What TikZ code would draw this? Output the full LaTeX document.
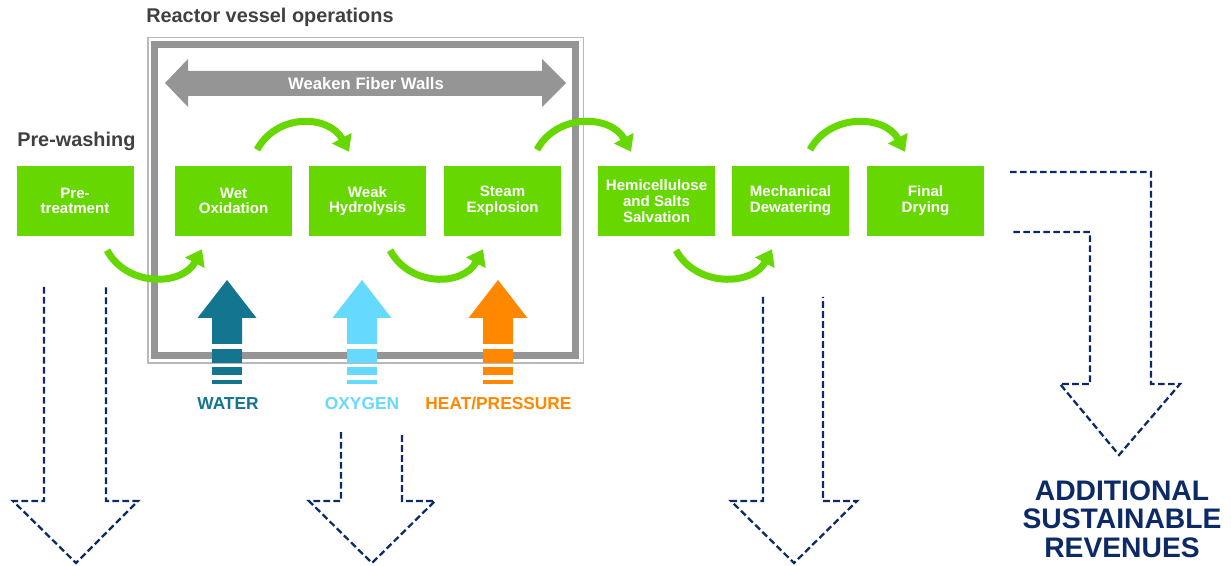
\documentclass[tikz,border=0pt]{standalone}
\usepackage{fontspec}
\setmainfont{Liberation Sans}
\usetikzlibrary{positioning,arrows.meta}
\definecolor{procgreen}{HTML}{66D800}
\definecolor{wallgray}{HTML}{959595}
\definecolor{framelight}{HTML}{B8B8B8}
\definecolor{labelgray}{HTML}{404040}
\definecolor{watercol}{HTML}{13758F}
\definecolor{oxycol}{HTML}{66D9FF}
\definecolor{heatcol}{HTML}{FF8800}
\definecolor{revnavy}{HTML}{0C2A66}
\begin{document}
\begin{tikzpicture}[
  x=0.75pt, y=-0.75pt,
  process/.style={rectangle, fill=procgreen, text=white, minimum width=87.75pt, minimum height=52.5pt, inner sep=0pt, font=\fontsize{11.3}{11.8}\selectfont\bfseries, align=center},
  flow/.style={draw=procgreen, line width=5.25pt, -{Triangle[length=11.5pt, width=16pt]}},
  output/.style={draw=revnavy, line width=1.7pt, dash pattern=on 5pt off 2.5pt},
  heading/.style={text=labelgray, font=\fontsize{14.9}{16}\selectfont\bfseries, inner sep=0pt},
  feed/.style={font=\fontsize{13}{15}\selectfont\bfseries, inner sep=0pt},
  node distance=100.5pt
]
\useasboundingbox (0,0) rectangle (1231,566);

% Reactor vessel frame
\draw[framelight, line width=0.9pt] (148,37.5) rectangle (583.5,363);
\draw[wallgray, line width=5.25pt] (154.5,45) rectangle (575.5,355.5);
\node[heading, anchor=base west] (reactor) at (146,23) {Reactor vessel operations};

% Weaken fiber walls
\fill[wallgray] (165,83) -- (188,59) -- (188,71) -- (542,71) -- (542,59) -- (566,83)
  -- (542,107) -- (542,96) -- (188,96) -- (188,107) -- cycle;
\node[text=white, font=\fontsize{12.5}{14}\selectfont\bfseries] (walls) at (366,84) {Weaken Fiber Walls};

% Process steps
\node[heading, anchor=base west] (prewash) at (17,147) {Pre-washing};
\node[process] (pre) at (75,201) {Pre-\\treatment};
\node[process, right of=pre, node distance=118.9pt] (wet) {Wet\\Oxidation};
\node[process, right of=wet] (weak) {Weak\\Hydrolysis};
\node[process, right of=weak, node distance=101.25pt] (steam) {Steam\\Explosion};
\node[process, right of=steam, node distance=115.5pt] (hemi) {Hemicellulose\\and Salts\\Salvation};
\node[process, right of=hemi] (mech) {Mechanical\\Dewatering};
\node[process, right of=mech, node distance=101.25pt] (dry) {Final\\Drying};

% Flow arcs
\draw[flow] ([shift={(32,14)}]pre.south) .. controls +(20,37) and +(-20,37) .. ([shift={(-31.5,13)}]wet.south);
\draw[flow] ([shift={(23.5,-16)}]wet.north) .. controls +(20,-37) and +(-20,-37) .. ([shift={(-18.5,-14)}]weak.north);
\draw[flow] ([shift={(22.5,14)}]weak.south) .. controls +(20,37) and +(-20,37) .. ([shift={(-19.5,13)}]steam.south);
\draw[flow] ([shift={(34.5,-16)}]steam.north) .. controls +(20,-37) and +(-20,-37) .. ([shift={(-25.5,-14)}]hemi.north);
\draw[flow] ([shift={(19.5,14)}]hemi.south) .. controls +(20,37) and +(-20,37) .. ([shift={(-18.5,13)}]mech.south);
\draw[flow] ([shift={(19.5,-16)}]mech.north) .. controls +(20,-37) and +(-20,-37) .. ([shift={(-20.5,-14)}]dry.north);

% Inputs
\fill[watercol] (227,280) -- (256.5,318) -- (242,318) -- (242,344) -- (212,344) -- (212,318) -- (197.5,318) -- cycle;
\fill[watercol] (212,349) rectangle (242,363);
\fill[watercol] (212,367) rectangle (242,375);
\fill[watercol] (212,380) rectangle (242,384);
\node[feed, text=watercol, anchor=base] (water) at (228,409) {WATER};

\fill[oxycol] (362,280) -- (391.5,318) -- (377,318) -- (377,344) -- (347,344) -- (347,318) -- (332.5,318) -- cycle;
\fill[oxycol] (347,349) rectangle (377,363);
\fill[oxycol] (347,367) rectangle (377,375);
\fill[oxycol] (347,380) rectangle (377,384);
\node[feed, text=oxycol, anchor=base] (oxygen) at (362,409) {OXYGEN};

\fill[heatcol] (498,280) -- (527.5,318) -- (513,318) -- (513,344) -- (483,344) -- (483,318) -- (468.5,318) -- cycle;
\fill[heatcol] (483,349) rectangle (513,363);
\fill[heatcol] (483,367) rectangle (513,375);
\fill[heatcol] (483,380) rectangle (513,384);
\node[feed, text=heatcol, anchor=base] (heat) at (498.5,409) {HEAT/PRESSURE};

% Outputs
\draw[output] (44,287) -- (44,501) -- (13,501) -- (76,563) -- (138,501) -- (106,501) -- (106,287);
\draw[output] (341,432) -- (341,501) -- (309,501) -- (372,563) -- (435,501) -- (402,501) -- (402,432);
\draw[output] (763,297) -- (763,501) -- (731,501) -- (794,563) -- (857,501) -- (823,501) -- (823,297);
\draw[output] (1010,172) -- (1151,172) -- (1151,384) -- (1180,384) -- (1119,455) -- (1060,384)
  -- (1090,384) -- (1090,232) -- (1010,232);
\node[font=\fontsize{21.2}{21.4}\selectfont\bfseries, text=revnavy, align=center, anchor=north, inner sep=0pt] (revenues) at (1122,480) {ADDITIONAL\\SUSTAINABLE\\REVENUES};

\end{tikzpicture}
\end{document}
